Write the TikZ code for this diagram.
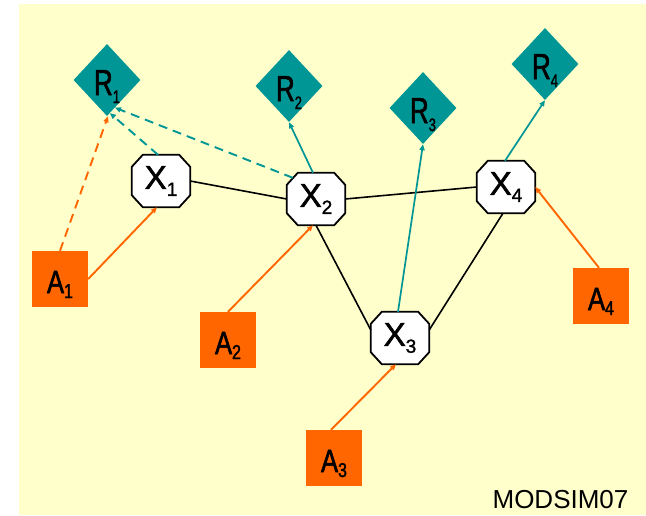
\documentclass[tikz,border=0pt]{standalone}
\usepackage{fontspec}
\setmainfont{Liberation Sans}
\newfontfamily\rfam[FakeStretch=0.72,FakeBold=1.6]{Liberation Sans}
\newfontfamily\afam[FakeStretch=0.8,FakeBold=1.6]{Liberation Sans}
\newfontfamily\xfam[FakeBold=1.6]{Liberation Sans}
\usetikzlibrary{shapes.geometric,arrows.meta}
\definecolor{tealc}{RGB}{0,150,150}
\definecolor{orngc}{RGB}{255,102,0}
\definecolor{bgyel}{RGB}{255,255,204}
\pgfdeclarelayer{back}
\pgfdeclarelayer{mid}
\pgfsetlayers{back,mid,main}
\newcommand\rlab[1]{{\rfam\fontsize{36}{36}\selectfont R\raisebox{-8pt}{\fontsize{18}{18}\selectfont #1}}}
\newcommand\xlab[1]{{\xfam\fontsize{33}{33}\selectfont X\raisebox{-7pt}{\fontsize{19}{19}\selectfont #1}}}
\newcommand\alab[1]{{\afam\fontsize{32}{32}\selectfont A\raisebox{-5pt}{\fontsize{20}{20}\selectfont #1}}}
\newcommand\octa[1]{%
  \begin{pgfonlayer}{mid}
  \draw[line width=1.8pt, fill=white, line join=miter]
    ([shift={(11,0)}]#1.north west) -- ([shift={(-11,0)}]#1.north east)
    -- ([shift={(0,12)}]#1.north east) -- ([shift={(0,-12)}]#1.south east)
    -- ([shift={(-11,0)}]#1.south east) -- ([shift={(11,0)}]#1.south west)
    -- ([shift={(0,-12)}]#1.south west) -- ([shift={(0,12)}]#1.north west) -- cycle;
  \end{pgfonlayer}}
\begin{document}
\begin{tikzpicture}[x=1pt,y=-1pt,
  rnode/.style={diamond, fill=tealc, inner sep=0pt, minimum width=67pt, minimum height=72pt, text height=30pt, text depth=0pt},
  xnode/.style={rectangle, inner sep=0pt, minimum width=58pt, minimum height=52pt},
  anode/.style={rectangle, fill=orngc, inner sep=0pt, minimum size=56pt, text height=28pt, text depth=0pt},
  tip/.style={-{Triangle[length=6pt,width=5pt]}},
  oarrow/.style={tip, draw=orngc, line width=1.9pt},
  odash/.style={oarrow, dash pattern=on 9pt off 6pt},
  tarrow/.style={tip, draw=tealc, line width=1.7pt},
  tdash/.style={tarrow, line width=1.9pt, dash pattern=on 9pt off 6pt},
  bline/.style={draw=black, line width=1.6pt}]
\useasboundingbox (0,0) rectangle (646,515);
\begin{pgfonlayer}{back}
\fill[white] (0,0) rectangle (646,515);
\fill[bgyel] (19,4) rectangle (646,515);
\end{pgfonlayer}
% R nodes
\node[rnode] (r1) at (107,80) {\rlab{1}};
\node[rnode] (r2) at (289,86) {\rlab{2}};
\node[rnode] (r3) at (423,108) {\rlab{3}};
\node[rnode] (r4) at (545,64) {\rlab{4}};
% X nodes
\node[xnode] (x1) at (161,181) {\xlab{1}};
\node[xnode] (x2) at (316,199) {\xlab{2}};
\node[xnode] (x3) at (400,338) {\xlab{3}};
\node[xnode] (x4) at (506,187) {\xlab{4}};
\octa{x1}\octa{x2}\octa{x3}\octa{x4}
% A nodes
\node[anode] (a1) at (60,279) {\alab{1}};
\node[anode] (a2) at (228,340) {\alab{2}};
\node[anode] (a3) at (334,458) {\alab{3}};
\node[anode] (a4) at (601,296) {\alab{4}};
% caption
\node[anchor=base, inner sep=0pt] (cap) at (560.5,508) {\fontsize{26}{26}\selectfont MODSIM07};
% connectors
\draw[odash] (a1.north) -- ([shift={(1,0)}]r1.south);
\draw[oarrow] (a1.east) -- ([shift={(-4,0)}]x1.south);
\draw[tdash] ([shift={(-3,0)}]x1.north) -- (r1.-85);
\draw[tdash] ([shift={(6,5)}]x2.north west) -- (r1.-74);
\draw[tarrow] ([shift={(-3,0)}]x2.north) -- (r2.south);
\draw[bline] (x1.east) -- (x2.west);
\draw[bline] (x2.east) -- (x4.west);
\draw[bline] (x2.south) -- ([shift={(0,-8)}]x3.west);
\draw[bline] ([shift={(-3,0)}]x4.south) -- ([shift={(0,-8)}]x3.east);
\draw[tarrow] ([shift={(-2,0)}]x3.north) -- (r3.south);
\draw[tarrow] ([shift={(-1,0)}]x4.north) -- (r4.south);
\draw[oarrow] (a2.north) -- ([shift={(-3,0)}]x2.south);
\draw[oarrow] ([shift={(-3,0)}]a3.north) -- ([shift={(-4,0)}]x3.south);
\draw[oarrow] ([shift={(-2,0)}]a4.north) -- (x4.east);
\end{tikzpicture}
\end{document}
